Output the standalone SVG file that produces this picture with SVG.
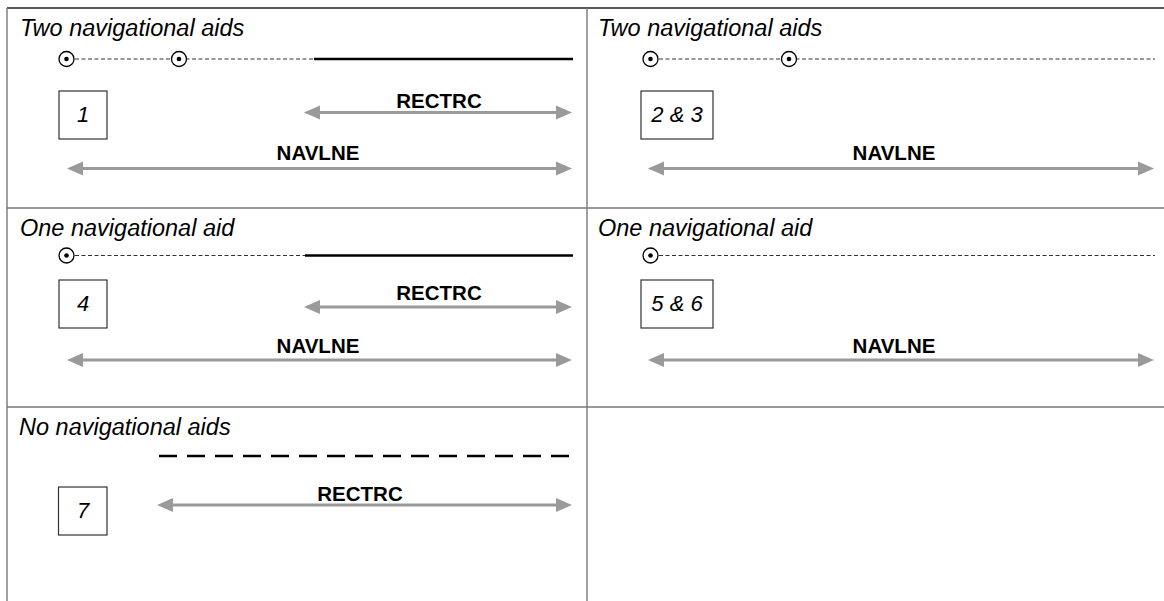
<svg xmlns="http://www.w3.org/2000/svg" width="1164" height="601" viewBox="0 0 1164 601">
<style>
.title{font-family:"Liberation Sans",Arial,sans-serif;font-style:italic;font-size:23.5px;fill:#000}
.num{font-family:"Liberation Sans",Arial,sans-serif;font-style:italic;font-size:22px;fill:#000;text-anchor:middle}
.lbl{font-family:"Liberation Sans",Arial,sans-serif;font-weight:bold;font-size:20.5px;fill:#000;text-anchor:middle}
.box{fill:#fff;stroke:#333;stroke-width:1.2}
.grid{stroke:#777;stroke-width:1.4;fill:none}
.aid{fill:#fff;stroke:#000;stroke-width:1.3}
.dot{fill:#000}
.thin{stroke:#333;stroke-width:1;stroke-dasharray:4 2.5;fill:none}
.solid{stroke:#000;stroke-width:2.5;fill:none}
.heavydash{stroke:#000;stroke-width:2.5;stroke-dasharray:18 10;fill:none}
.arrow{stroke:#9a9a9a;stroke-width:3;fill:none;marker-start:url(#ah);marker-end:url(#ah)}
</style>
<defs>
<marker id="ah" markerUnits="userSpaceOnUse" markerWidth="16" markerHeight="14" refX="0" refY="7" orient="auto-start-reverse" overflow="visible">
<path d="M0,0 L16,7 L0,14 z" fill="#9a9a9a"/>
</marker>
</defs>
<rect width="1164" height="601" fill="#fff"/>
<g id="grid">
<line x1="7" y1="8" x2="1164" y2="8" stroke="#222" stroke-width="1.5"/>
<line class="grid" x1="7" y1="8" x2="7" y2="601"/>
<line class="grid" x1="587" y1="8" x2="587" y2="601"/>
<line class="grid" x1="7" y1="208" x2="1164" y2="208"/>
<line class="grid" x1="7" y1="407" x2="1164" y2="407"/>
</g>
<g id="cell1">
<text class="title" x="20" y="36">Two navigational aids</text>
<line class="thin" x1="75" y1="59" x2="314" y2="59"/>
<line class="solid" x1="314" y1="59" x2="573" y2="59"/>
<circle class="aid" cx="66.5" cy="59" r="7.5"/><circle class="dot" cx="66.5" cy="59" r="2.3"/>
<circle class="aid" cx="179" cy="59" r="7.5"/><circle class="dot" cx="179" cy="59" r="2.3"/>
<g id="box1"><rect class="box" x="59" y="91" width="48" height="48"/><text class="num" x="83" y="122">1</text></g>
</g>
<g id="cell2">
<text class="title" x="598" y="36">Two navigational aids</text>
<line class="thin" x1="659" y1="59" x2="1155" y2="59"/>
<circle class="aid" cx="650.5" cy="59" r="7.5"/><circle class="dot" cx="650.5" cy="59" r="2.3"/>
<circle class="aid" cx="789" cy="59" r="7.5"/><circle class="dot" cx="789" cy="59" r="2.3"/>
<g id="box23"><rect class="box" x="641" y="91" width="72" height="48"/><text class="num" x="677" y="122">2 &amp; 3</text></g>
</g>
<g id="cell4">
<text class="title" x="20" y="236">One navigational aid</text>
<line class="thin" x1="75" y1="255.5" x2="305" y2="255.5"/>
<line class="solid" x1="305" y1="255.5" x2="573" y2="255.5"/>
<circle class="aid" cx="66.5" cy="255.5" r="7.5"/><circle class="dot" cx="66.5" cy="255.5" r="2.3"/>
<g id="box4"><rect class="box" x="59" y="280" width="48" height="48"/><text class="num" x="83" y="311">4</text></g>
</g>
<g id="cell5">
<text class="title" x="598" y="236">One navigational aid</text>
<line class="thin" x1="659" y1="255.5" x2="1155" y2="255.5"/>
<circle class="aid" cx="650.5" cy="255.5" r="7.5"/><circle class="dot" cx="650.5" cy="255.5" r="2.3"/>
<g id="box56"><rect class="box" x="641" y="280" width="72" height="48"/><text class="num" x="677" y="311">5 &amp; 6</text></g>
</g>
<g id="cell7">
<text class="title" x="19" y="435">No navigational aids</text>
<line class="heavydash" x1="159" y1="456" x2="573" y2="456"/>
<g id="box7"><rect class="box" x="58.5" y="487" width="48.5" height="48"/><text class="num" x="83" y="518">7</text></g>
</g>
<g id="connectors">
<line class="arrow" x1="320" y1="112.5" x2="556" y2="112.5"/>
<text class="lbl" x="439" y="108">RECTRC</text>
<line class="arrow" x1="83" y1="168.5" x2="556" y2="168.5"/>
<text class="lbl" x="318" y="160">NAVLNE</text>
<line class="arrow" x1="664" y1="168.5" x2="1138" y2="168.5"/>
<text class="lbl" x="894" y="160">NAVLNE</text>
<line class="arrow" x1="320" y1="307" x2="556" y2="307"/>
<text class="lbl" x="439" y="300">RECTRC</text>
<line class="arrow" x1="83" y1="360" x2="556" y2="360"/>
<text class="lbl" x="318" y="353">NAVLNE</text>
<line class="arrow" x1="664" y1="360" x2="1138" y2="360"/>
<text class="lbl" x="894" y="353">NAVLNE</text>
<line class="arrow" x1="173" y1="505" x2="556" y2="505"/>
<text class="lbl" x="360" y="501">RECTRC</text>
</g>
</svg>
